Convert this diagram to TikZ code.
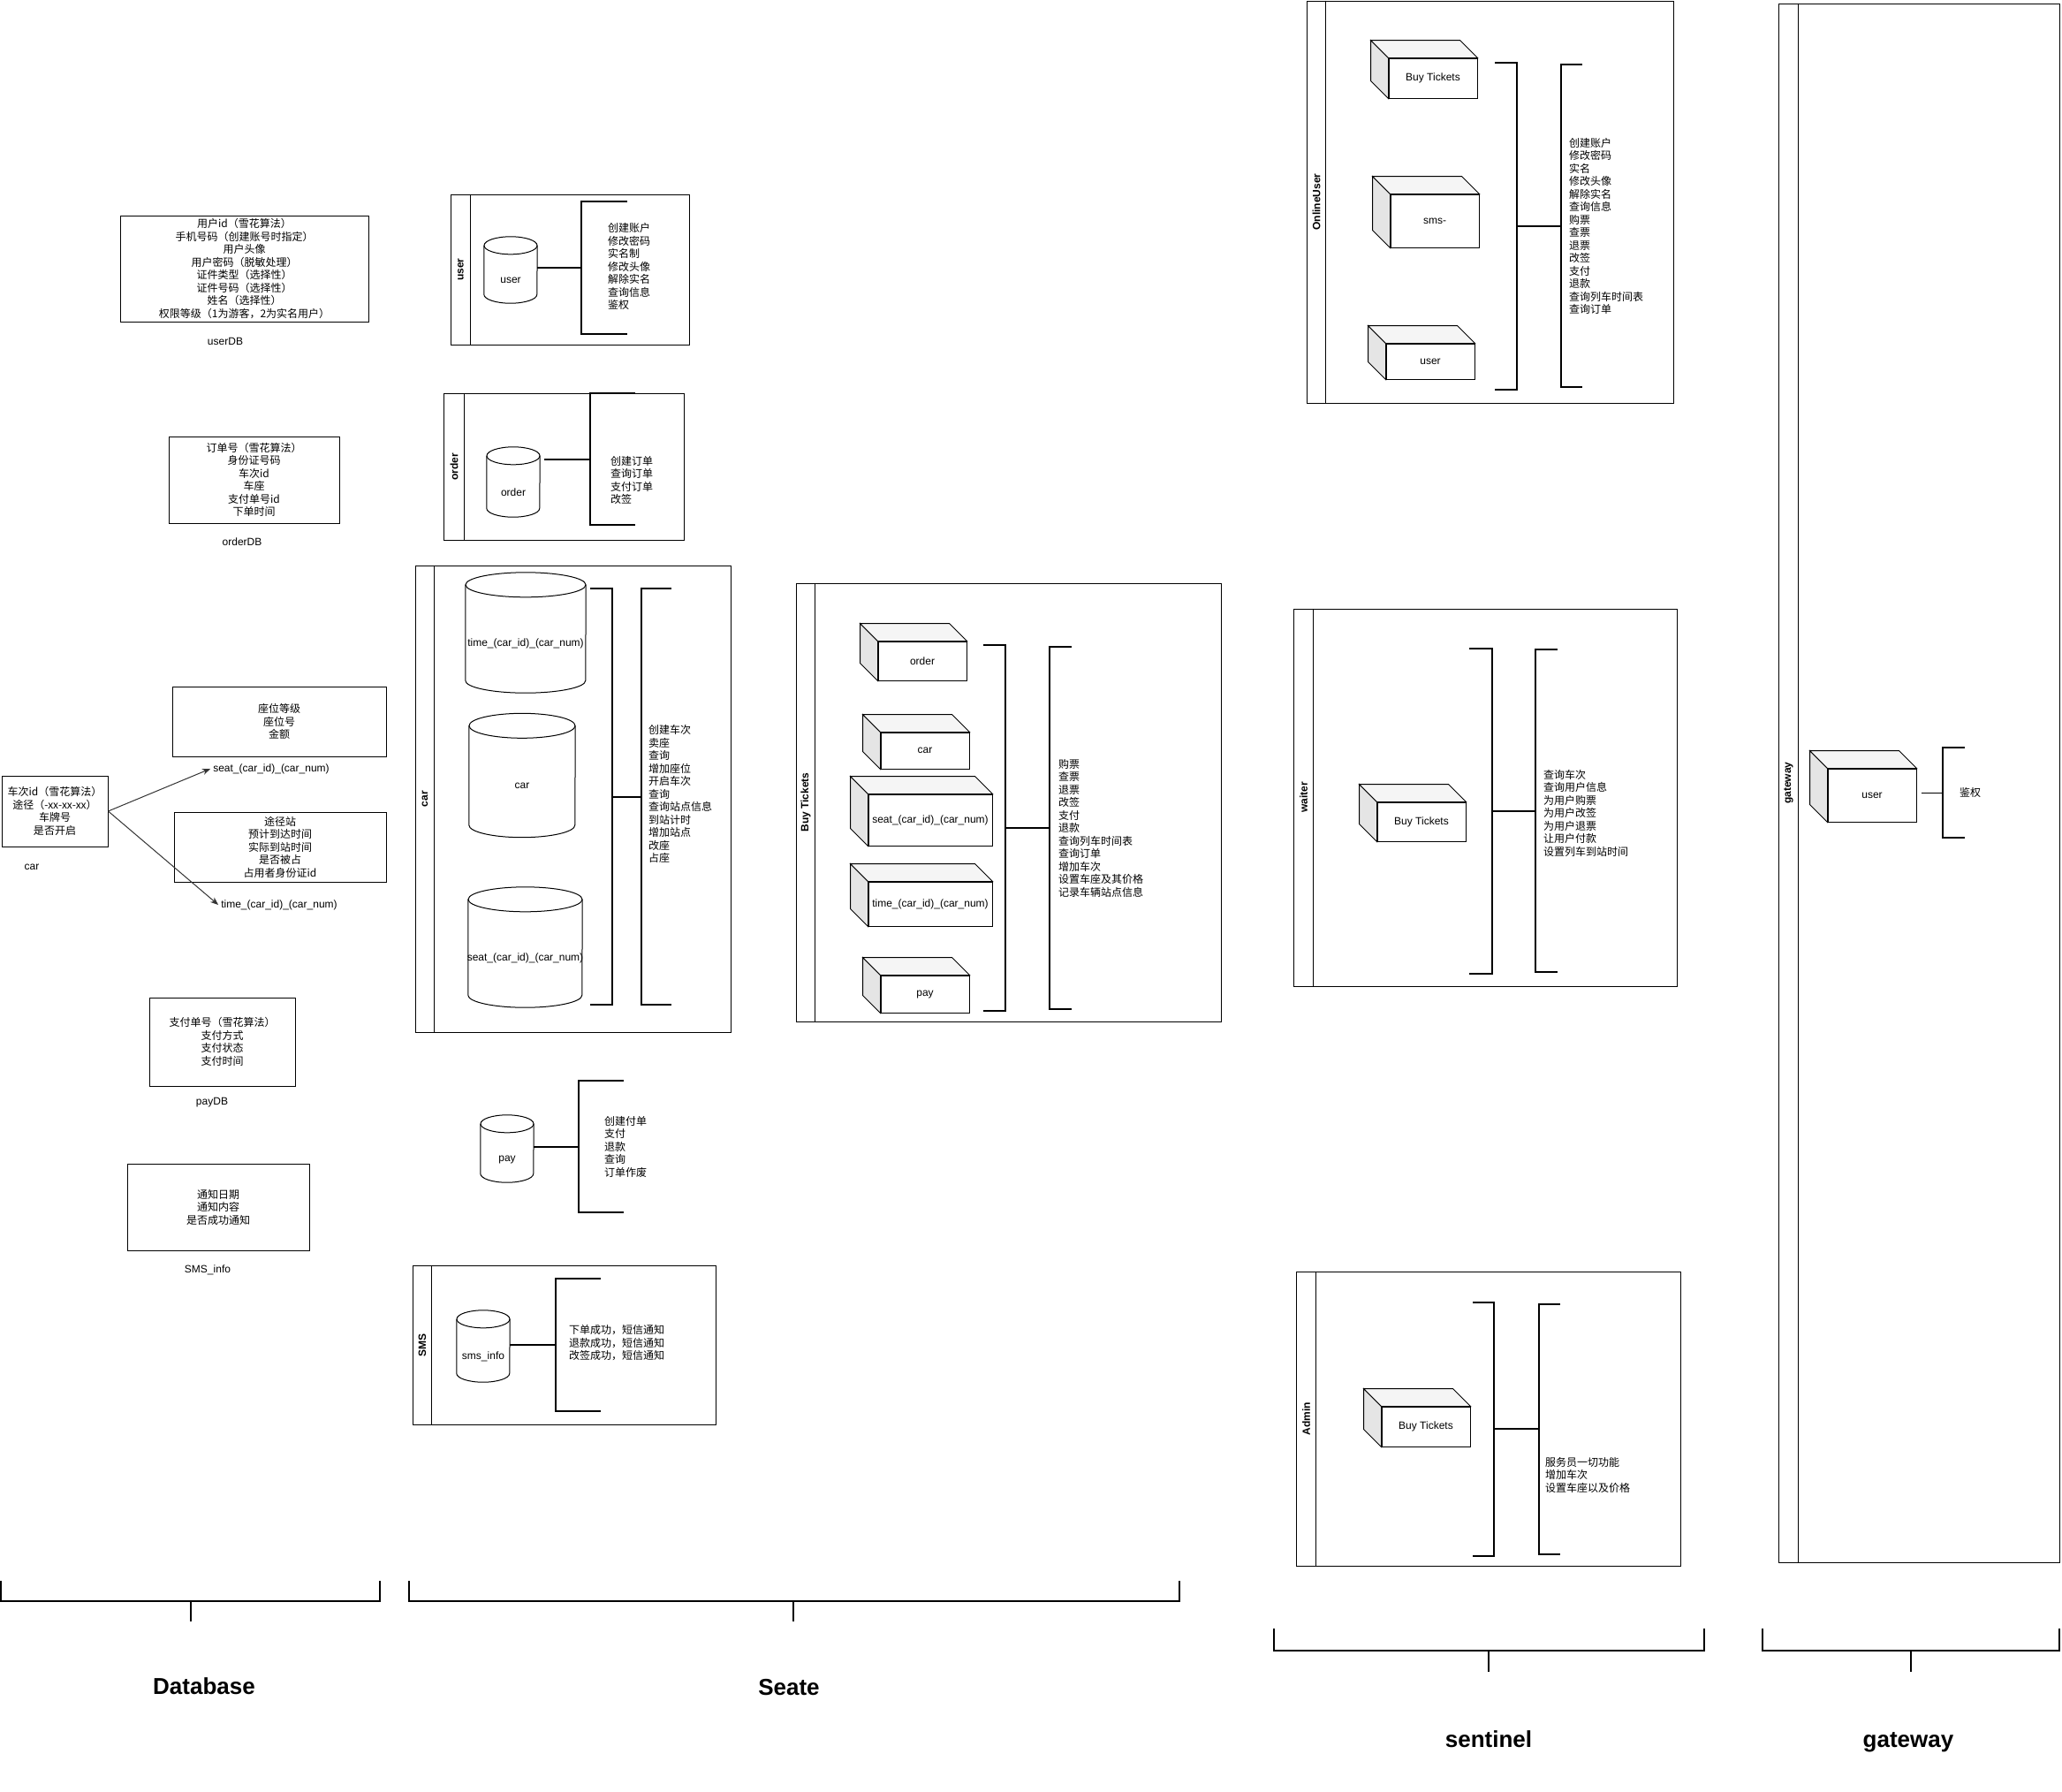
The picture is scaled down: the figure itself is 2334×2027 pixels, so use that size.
\documentclass[tikz,border=0pt]{standalone}
\usepackage{fontspec}
\setmainfont{Liberation Sans}
\newfontfamily\cjk{Noto Sans CJK SC}
\usetikzlibrary{arrows.meta, positioning, calc}
\newcommand\dsz{\fontsize{12}{14.5}\selectfont}
% cylinder outline round an invisible node: name, x radius, y radius
\newcommand\dbcyl[3]{%
  \draw[line width=1pt] ([yshift=-#3pt]#1.north west) -- ([yshift=#3pt]#1.south west)
    arc[start angle=180, end angle=360, x radius=#2pt, y radius=#3pt]
    -- ([yshift=-#3pt]#1.north east);
  \draw[line width=1pt] ([yshift=-#3pt]#1.north) ellipse [x radius=#2pt, y radius=#3pt];
}
% side and top faces of a cube node
\newcommand\cubeside[1]{%
  \filldraw[fill=black!10, line width=1pt] (#1.north west) -- ++(-20pt,20pt)
    -- ([shift={(-20pt,20pt)}]#1.south west) -- (#1.south west) -- cycle;
  \filldraw[fill=black!4, line width=1pt] (#1.north west) -- ++(-20pt,20pt)
    -- ([shift={(-20pt,20pt)}]#1.north east) -- (#1.north east) -- cycle;
}

\begin{document}
\begin{tikzpicture}[x=1pt, y=-1pt,
  dbbox/.style={draw, rectangle, line width=1pt, align=center, inner sep=0pt, font=\cjk\dsz},
  lbl/.style={font=\dsz, inner sep=3pt},
  pool/.style={draw, rectangle, line width=1pt, inner sep=0pt},
  ttl/.style={font=\bfseries\dsz, rotate=90},
  cyl/.style={rectangle, inner sep=0pt},
  lblc/.style={font=\dsz, yshift=-12pt},
  cube/.style={draw, fill=white, line width=1pt, align=center, inner sep=0pt, font=\dsz},
  fn/.style={align=left, anchor=west, inner sep=0pt, font=\cjk\dsz},
  brk/.style={line width=2pt},
  grp/.style={line width=2pt},
  grplbl/.style={font=\bfseries\fontsize{26}{30}\selectfont},
  arr/.style={-{Stealth[length=9pt, width=7pt]}, line width=1pt, draw=black!80}
]
\useasboundingbox (0,0) rectangle (2334,2027);

% 数据库表
\node[dbbox, minimum width=281pt, minimum height=120pt] (userTbl) at (276.5,304) {
  用户id（雪花算法）\\手机号码（创建账号时指定）\\用户头像\\用户密码（脱敏处理）\\
  证件类型（选择性）\\证件号码（选择性）\\姓名（选择性）\\权限等级（1为游客，2为实名用户）};
\node[lbl] (userName) at (255,386) {userDB};

\node[dbbox, minimum width=193pt, minimum height=98pt] (orderTbl) at (287.5,543) {
  订单号（雪花算法）\\身份证号码\\车次id\\车座\\支付单号id\\下单时间};
\node[lbl] (orderName) at (274,613) {orderDB};

\node[dbbox, minimum width=120pt, minimum height=80pt] (carTbl) at (62,918) {
  车次id（雪花算法）\\途径（-xx-xx-xx）\\车牌号\\是否开启};
\node[lbl] (carName) at (36,981) {car};

\node[dbbox, minimum width=242pt, minimum height=79pt] (seatTbl) at (316,816.5) {
  座位等级\\座位号\\金额};
\node[lbl] (seatName) at (307,870) {seat\_(car\_id)\_(car\_num)};

\node[dbbox, minimum width=240pt, minimum height=79pt] (timeTbl) at (317,958.5) {
  途径站\\预计到达时间\\实际到站时间\\是否被占\\占用者身份证id};
\node[lbl] (timeName) at (316,1024) {time\_(car\_id)\_(car\_num)};

\draw[arr] (carTbl.east) -- (seatName.west);
\draw[arr] (carTbl.east) -- (timeName.west);

\node[dbbox, minimum width=165pt, minimum height=100pt] (payTbl) at (251.5,1179) {
  支付单号（雪花算法）\\支付方式\\支付状态\\支付时间};
\node[lbl] (payName) at (240,1248) {payDB};

\node[dbbox, minimum width=206pt, minimum height=98pt] (smsTbl) at (247,1366) {
  通知日期\\通知内容\\是否成功通知};
\node[lbl] (smsName) at (235,1437) {SMS\_info};

% Seate: user
\node[pool, minimum width=270pt, minimum height=170pt] (userPool) at (645,305) {};
\draw[line width=1pt] ([xshift=23pt]userPool.north west) -- ([xshift=23pt]userPool.south west);
\node[ttl] (userTtl) at (521.5,305) {user};
\node[cyl, minimum width=60pt, minimum height=75pt, label={[lblc]center:user}] (userDb) at (578,305.5) {};
\dbcyl{userDb}{30}{10}
\coordinate (userBr) at (658,303);
\draw[brk] (userDb.east |- userBr) -- (userBr);
\draw[brk] (710,228) -- (658,228) -- (658,378) -- (710,378);
\node[fn] (userFn) at (688,301.5) {创建账户\\修改密码\\实名制\\修改头像\\解除实名\\查询信息\\鉴权};

% Seate: order
\node[pool, minimum width=272pt, minimum height=166pt] (ordPool) at (638,528) {};
\draw[line width=1pt] ([xshift=24pt]ordPool.north west) -- ([xshift=24pt]ordPool.south west);
\node[ttl] (ordTtl) at (514,528) {order};
\node[cyl, minimum width=60pt, minimum height=79pt, label={[lblc]center:order}] (ordDb) at (581,545.5) {};
\dbcyl{ordDb}{30}{10}
\coordinate (ordBr) at (668,519.5);
\draw[brk] ([xshift=5pt]ordDb.east |- ordBr) -- (ordBr);
\draw[brk] (719,445) -- (668,445) -- (668,594) -- (719,594);
\node[fn] (ordFn) at (691,543.5) {创建订单\\查询订单\\支付订单\\改签};

% Seate: car
\node[pool, minimum width=357pt, minimum height=528pt] (carPool) at (648.5,904) {};
\draw[line width=1pt] ([xshift=22pt]carPool.north west) -- ([xshift=22pt]carPool.south west);
\node[ttl] (carTtl) at (481,904) {car};
\node[cyl, minimum width=136pt, minimum height=136pt, label={[lblc]center:time\_(car\_id)\_(car\_num)}] (timeDb) at (595,716) {};
\dbcyl{timeDb}{68}{14}
\node[cyl, minimum width=120pt, minimum height=140pt, label={[lblc]center:car}] (carDb) at (591,877.5) {};
\dbcyl{carDb}{60}{14}
\node[cyl, minimum width=129pt, minimum height=136pt, label={[lblc]center:seat\_(car\_id)\_(car\_num)}] (seatDb) at (594.5,1072) {};
\dbcyl{seatDb}{64.5}{14}
\coordinate (carBrL) at (693,901.5);
\coordinate (carBrR) at (726,901.5);
\draw[brk] (668,666) -- (693,666) -- (693,1137) -- (668,1137);
\draw[brk] (760,666) -- (726,666) -- (726,1137) -- (760,1137);
\draw[brk] (carBrL) -- (carBrR);
\node[fn] (carFn) at (734,898.5) {创建车次\\卖座\\查询\\增加座位\\开启车次\\查询\\查询站点信息\\到站计时\\增加站点\\改座\\占座};

% Seate: pay
\node[cyl, minimum width=60pt, minimum height=76pt, label={[lblc]center:pay}] (payDb) at (574,1300) {};
\dbcyl{payDb}{30}{10}
\coordinate (payBr) at (655,1297.5);
\draw[brk] (payDb.east |- payBr) -- (payBr);
\draw[brk] (706,1223) -- (655,1223) -- (655,1372) -- (706,1372);
\node[fn] (payFn) at (684,1297.5) {创建付单\\支付\\退款\\查询\\订单作废};

% Seate: SMS
\node[pool, minimum width=343pt, minimum height=180pt] (smsPool) at (638.5,1522) {};
\draw[line width=1pt] ([xshift=22pt]smsPool.north west) -- ([xshift=22pt]smsPool.south west);
\node[ttl] (smsTtl) at (478,1522) {SMS};
\node[cyl, minimum width=60pt, minimum height=81pt, label={[lblc]center:sms\_info}] (smsDb) at (547,1523.5) {};
\dbcyl{smsDb}{30}{10}
\coordinate (smsBr) at (629,1522);
\draw[brk] (smsDb.east |- smsBr) -- (smsBr);
\draw[brk] (680,1447) -- (629,1447) -- (629,1597) -- (680,1597);
\node[fn] (smsFn) at (644,1520) {下单成功，短信通知\\退款成功，短信通知\\改签成功，短信通知};

% Buy Tickets
\node[pool, minimum width=481pt, minimum height=496pt] (btPool) at (1141.5,908) {};
\draw[line width=1pt] ([xshift=22pt]btPool.north west) -- ([xshift=22pt]btPool.south west);
\node[ttl] (btTtl) at (912,908) {Buy Tickets};
\node[cube, minimum width=100pt, minimum height=44pt] (btOrder) at (1044,748) {order};
\cubeside{btOrder}
\node[cube, minimum width=100pt, minimum height=41pt] (btCar) at (1047,849.5) {car};
\cubeside{btCar}
\node[cube, minimum width=140pt, minimum height=58pt] (btSeat) at (1053,928) {seat\_(car\_id)\_(car\_num)};
\cubeside{btSeat}
\node[cube, minimum width=140pt, minimum height=50pt] (btTime) at (1053,1023) {time\_(car\_id)\_(car\_num)};
\cubeside{btTime}
\node[cube, minimum width=100pt, minimum height=42pt] (btPay) at (1047,1125) {pay};
\cubeside{btPay}
\coordinate (btBrL) at (1138,937);
\coordinate (btBrR) at (1188,937);
\draw[brk] (1113,730) -- (1138,730) -- (1138,1144) -- (1113,1144);
\draw[brk] (1213,732) -- (1188,732) -- (1188,1142) -- (1213,1142);
\draw[brk] (btBrL) -- (btBrR);
\node[fn] (btFn) at (1198,937) {购票\\查票\\退票\\改签\\支付\\退款\\查询列车时间表\\查询订单\\增加车次\\设置车座及其价格\\记录车辆站点信息};

% sentinel: OnlineUser
\node[pool, minimum width=415pt, minimum height=455pt] (ouPool) at (1686.5,228.5) {};
\draw[line width=1pt] ([xshift=22pt]ouPool.north west) -- ([xshift=22pt]ouPool.south west);
\node[ttl] (ouTtl) at (1490,228.5) {OnlineUser};
\node[cube, minimum width=100pt, minimum height=45pt] (ouBuy) at (1622,88.5) {Buy Tickets};
\cubeside{ouBuy}
\node[cube, minimum width=100pt, minimum height=60pt] (ouSms) at (1624,250) {sms-};
\cubeside{ouSms}
\node[cube, minimum width=100pt, minimum height=40pt] (ouUser) at (1619,409) {user};
\cubeside{ouUser}
\coordinate (ouBrL) at (1717,256);
\coordinate (ouBrR) at (1767,256);
\draw[brk] (1692,71) -- (1717,71) -- (1717,441) -- (1692,441);
\draw[brk] (1791,73) -- (1767,73) -- (1767,438) -- (1791,438);
\draw[brk] (ouBrL) -- (ouBrR);
\node[fn] (ouFn) at (1776,256) {创建账户\\修改密码\\实名\\修改头像\\解除实名\\查询信息\\购票\\查票\\退票\\改签\\支付\\退款\\查询列车时间表\\查询订单};

% sentinel: waiter
\node[pool, minimum width=434pt, minimum height=427pt] (waPool) at (1681,902.5) {};
\draw[line width=1pt] ([xshift=23pt]waPool.north west) -- ([xshift=23pt]waPool.south west);
\node[ttl] (waTtl) at (1475.5,902.5) {waiter};
\node[cube, minimum width=100pt, minimum height=44pt] (waBuy) at (1609,930) {Buy Tickets};
\cubeside{waBuy}
\coordinate (waBrL) at (1689,918);
\coordinate (waBrR) at (1738,918);
\draw[brk] (1663,734) -- (1689,734) -- (1689,1102) -- (1663,1102);
\draw[brk] (1763,735) -- (1738,735) -- (1738,1100) -- (1763,1100);
\draw[brk] (waBrL) -- (waBrR);
\node[fn] (waFn) at (1747,920) {查询车次\\查询用户信息\\为用户购票\\为用户改签\\为用户退票\\让用户付款\\设置列车到站时间};

% sentinel: Admin
\node[pool, minimum width=435pt, minimum height=333pt] (adPool) at (1684.5,1605.5) {};
\draw[line width=1pt] ([xshift=23pt]adPool.north west) -- ([xshift=23pt]adPool.south west);
\node[ttl] (adTtl) at (1478.5,1605.5) {Admin};
\node[cube, minimum width=100pt, minimum height=45pt] (adBuy) at (1614,1614.5) {Buy Tickets};
\cubeside{adBuy}
\coordinate (adBrL) at (1691,1617);
\coordinate (adBrR) at (1742,1617);
\draw[brk] (1667,1474) -- (1691,1474) -- (1691,1761) -- (1667,1761);
\draw[brk] (1766,1476) -- (1742,1476) -- (1742,1759) -- (1766,1759);
\draw[brk] (adBrL) -- (adBrR);
\node[fn] (adFn) at (1749,1669) {服务员一切功能\\增加车次\\设置车座以及价格};

% gateway
\node[pool, minimum width=318pt, minimum height=1764pt] (gwPool) at (2172,886) {};
\draw[line width=1pt] ([xshift=23pt]gwPool.north west) -- ([xshift=23pt]gwPool.south west);
\node[ttl] (gwTtl) at (2024.5,886) {gateway};
\node[cube, minimum width=100pt, minimum height=60pt] (gwUser) at (2119,900) {user};
\cubeside{gwUser}
\coordinate (gwBr) at (2199,897);
\draw[line width=1pt] ([xshift=5pt]gwUser.east |- gwBr) -- (gwBr);
\draw[brk] (2224,846) -- (2199,846) -- (2199,948) -- (2224,948);
\node[fn] (gwFn) at (2218,897) {鉴权};

% 分组
\draw[grp] (1,1789) -- (1,1812) -- (430,1812) -- (430,1789);
\draw[grp] (216,1812) -- (216,1835);
\node[grplbl] (dbGrp) at (231,1908) {Database};
\draw[grp] (463,1789) -- (463,1812) -- (1335,1812) -- (1335,1789);
\draw[grp] (898,1812) -- (898,1835);
\node[grplbl] (seGrp) at (893,1910) {Seate};
\draw[grp] (1442,1843) -- (1442,1868) -- (1929,1868) -- (1929,1843);
\draw[grp] (1685,1868) -- (1685,1892);
\node[grplbl] (snGrp) at (1685,1968) {sentinel};
\draw[grp] (1995,1843) -- (1995,1868) -- (2331,1868) -- (2331,1843);
\draw[grp] (2163,1868) -- (2163,1892);
\node[grplbl] (gwGrp) at (2160,1972) {gateway};

\end{tikzpicture}
\end{document}
